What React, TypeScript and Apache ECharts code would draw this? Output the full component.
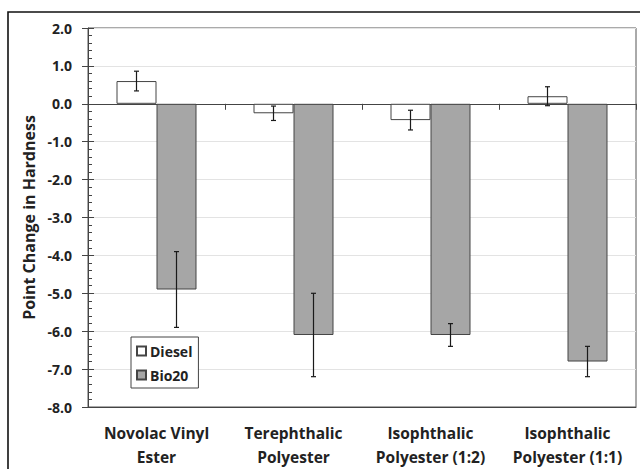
import React, { useEffect, useRef } from "react";
import * as echarts from "echarts";

const categories = [
  "Novolac Vinyl\nEster",
  "Terephthalic\nPolyester",
  "Isophthalic\nPolyester (1:2)",
  "Isophthalic\nPolyester (1:1)",
];
const seriesNames = ["Diesel", "Bio20"];
const dieselValues = [0.6, -0.25, -0.43, 0.2];
const dieselErrors = [0.26, 0.19, 0.26, 0.25];
const bio20Values = [-4.9, -6.1, -6.1, -6.8];
const bio20Errors = [1.0, 1.1, 0.3, 0.4];
const yTicks = { min: -8, max: 2, interval: 1 };

const FONT = "'Open Sans', 'Noto Sans', sans-serif";
const BAR_W = 40;

function errorBarSeries(values: number[], errors: number[], offset: number) {
  return {
    type: "custom",
    xAxisIndex: 0,
    yAxisIndex: 0,
    z: 10,
    silent: true,
    data: values.map((v, i) => [i, v, errors[i]]),
    encode: { x: 0, y: 1 },
    renderItem: (params: any, api: any) => {
      const x = api.value(0);
      const v = api.value(1);
      const e = api.value(2);
      const hi = api.coord([x, v + e]);
      const lo = api.coord([x, v - e]);
      const cx = hi[0] + offset;
      const cap = 2.5;
      const style = { stroke: "#1a1a1a", lineWidth: 1.2 };
      return {
        type: "group",
        children: [
          { type: "line", shape: { x1: cx, y1: hi[1], x2: cx, y2: lo[1] }, style },
          { type: "line", shape: { x1: cx - cap, y1: hi[1], x2: cx + cap, y2: hi[1] }, style },
          { type: "line", shape: { x1: cx - cap, y1: lo[1], x2: cx + cap, y2: lo[1] }, style },
        ],
      };
    },
  };
}

export default function App() {
  const ref = useRef<HTMLDivElement>(null);
  useEffect(() => {
    document.body.style.margin = "0";
    const chart = echarts.init(ref.current!, null, { renderer: "svg" });
    const option: any = {
      animation: false,
      backgroundColor: "#ffffff",
      textStyle: { fontFamily: FONT },
      graphic: [
        {
          type: "rect",
          shape: { x: 8, y: 12, width: 700, height: 500 },
          style: { fill: "none", stroke: "#111", lineWidth: 1.6 },
          z: 100,
          silent: true,
        },
      ],
      grid: {
        left: 88,
        top: 28,
        right: 4,
        bottom: 58,
        show: true,
        borderColor: "#555",
        borderWidth: 1,
        containLabel: false,
      },
      legend: {
        data: seriesNames,
        orient: "vertical",
        left: 131,
        top: 337,
        backgroundColor: "#fff",
        borderColor: "#444",
        borderWidth: 1,
        padding: [7, 6, 6, 5],
        itemGap: 10,
        itemWidth: 9,
        itemHeight: 9,
        icon: "rect",
        textStyle: { fontFamily: FONT, fontWeight: "bold", fontSize: 14, color: "#222", padding: [0, 0, 0, -1] },
      },
      xAxis: [
        {
          type: "category",
          data: categories,
          position: "bottom",
          axisLine: { onZero: false, lineStyle: { color: "#444", width: 1 } },
          axisTick: { show: false },
          axisLabel: {
            fontFamily: FONT,
            fontWeight: "bold",
            fontSize: 15.5,
            color: "#222",
            lineHeight: 24,
            margin: 14,
            interval: 0,
          },
          splitLine: { show: false },
        },
        {
          type: "category",
          data: categories,
          position: "bottom",
          axisLine: { onZero: true, lineStyle: { color: "#444", width: 1.2 } },
          axisTick: { show: true, length: 6, lineStyle: { color: "#444" } },
          axisLabel: { show: false },
          splitLine: { show: false },
        },
      ],
      yAxis: [
        {
          type: "value",
          min: yTicks.min,
          max: yTicks.max,
          interval: yTicks.interval,
          name: "Point Change in Hardness",
          nameLocation: "middle",
          nameGap: 44,
          nameTextStyle: { fontFamily: FONT, fontWeight: "bold", fontSize: 16, color: "#222" },
          axisLine: { show: true, lineStyle: { color: "#444", width: 1 } },
          axisTick: { show: true, inside: true, length: 6, lineStyle: { color: "#444" } },
          minorTick: { show: true, splitNumber: 5, length: 4, lineStyle: { color: "#444" } },
          axisLabel: {
            fontFamily: FONT,
            fontWeight: "bold",
            fontSize: 14,
            color: "#222",
            margin: 16,
            formatter: (v: number) => v.toFixed(1),
          },
          splitLine: { show: true, lineStyle: { color: "#e3e3e3", width: 1 } },
        },
        {
          type: "value",
          min: yTicks.min,
          max: yTicks.max,
          interval: yTicks.interval,
          position: "left",
          axisLine: { show: false },
          axisTick: { show: true, inside: false, length: 6, lineStyle: { color: "#444" } },
          axisLabel: { show: false },
          splitLine: { show: false },
        },
      ],
      series: [
        {
          name: "Diesel",
          type: "bar",
          xAxisIndex: 0,
          yAxisIndex: 0,
          data: dieselValues,
          barWidth: BAR_W,
          barGap: "0%",
          itemStyle: { color: "#ffffff", borderColor: "#444", borderWidth: 1 },
        },
        {
          name: "Bio20",
          type: "bar",
          xAxisIndex: 0,
          yAxisIndex: 0,
          data: bio20Values,
          barWidth: BAR_W,
          barGap: "0%",
          itemStyle: { color: "#a6a6a6", borderColor: "#444", borderWidth: 1 },
        },
        errorBarSeries(dieselValues, dieselErrors, -BAR_W / 2),
        errorBarSeries(bio20Values, bio20Errors, BAR_W / 2),
      ],
    };
    chart.setOption(option);
    return () => chart.dispose();
  }, []);
  return <div ref={ref} style={{ width: 640, height: 469 }} />;
}
